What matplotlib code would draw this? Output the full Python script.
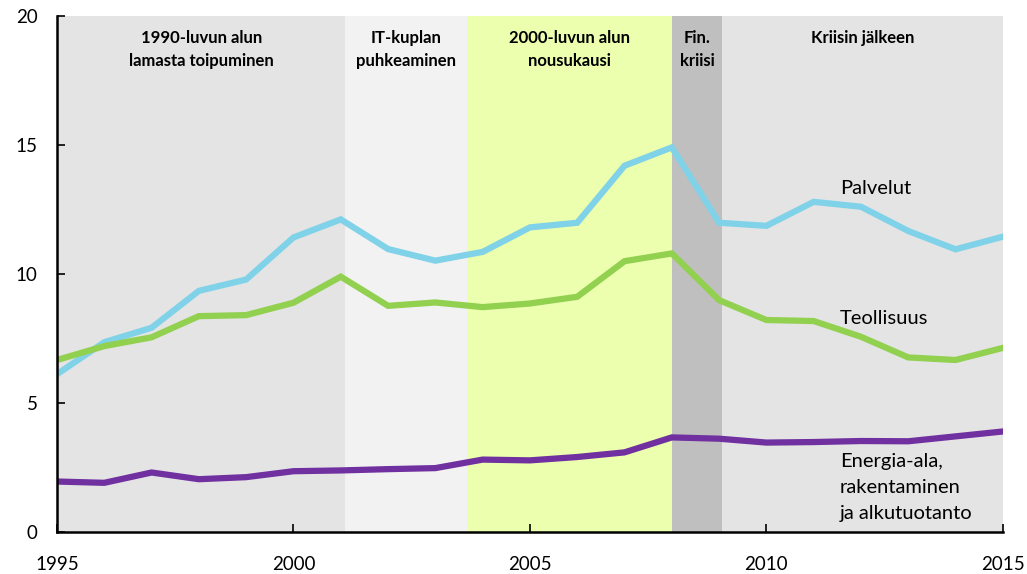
import matplotlib
matplotlib.use("Agg")
import matplotlib.pyplot as plt

plt.rcParams['font.family'] = ['Lato', 'DejaVu Sans']

years = list(range(1995, 2016))
palvelut = [6.12, 7.36, 7.92, 9.35, 9.79, 11.42, 12.12, 10.97, 10.52, 10.86, 11.81,
            11.99, 14.2, 14.91, 11.99, 11.87, 12.8, 12.61, 11.67, 10.96, 11.45]
teollisuus = [6.67, 7.21, 7.55, 8.37, 8.41, 8.89, 9.9, 8.77, 8.9, 8.72, 8.86,
              9.12, 10.5, 10.8, 8.99, 8.22, 8.18, 7.57, 6.77, 6.67, 7.14]
energia = [1.96, 1.91, 2.31, 2.05, 2.13, 2.36, 2.39, 2.44, 2.48, 2.81, 2.78,
           2.91, 3.09, 3.67, 3.62, 3.47, 3.49, 3.53, 3.52, 3.71, 3.9]

# periods: start, end, label, colour
period_starts = [1995, 2001.1, 2003.67, 2008.0, 2009.07]
period_ends = [2001.1, 2003.67, 2008.0, 2009.07, 2015]
period_labels = ["1990-luvun alun\nlamasta toipuminen", "IT-kuplan\npuhkeaminen",
                 "2000-luvun alun\nnousukausi", "Fin.\nkriisi", "Kriisin jälkeen"]
period_colors = ["#E4E4E4", "#F2F2F2", "#EBFFAF", "#BFBFBF", "#E4E4E4"]

fig = plt.figure(figsize=(10.27, 5.74), dpi=100)
ax = fig.add_axes([0.0555, 0.073, 0.921, 0.899])

for s, e, lab, c in zip(period_starts, period_ends, period_labels, period_colors):
    ax.axvspan(s, e, color=c, lw=0, zorder=0)
    ax.text((s + e) / 2, 19.45, lab, ha='center', va='top', fontsize=12,
            fontweight='bold', linespacing=1.55, zorder=3)

ax.plot(years, palvelut, color="#80D2E8", lw=4.5, zorder=2, solid_joinstyle='miter')
ax.plot(years, teollisuus, color="#92D050", lw=4.5, zorder=2, solid_joinstyle='miter')
ax.plot(years, energia, color="#7030A0", lw=4.5, zorder=2, solid_joinstyle='miter')

ax.text(2011.55, 13.33, "Palvelut", fontsize=14.5, va='center')
ax.text(2011.55, 8.29, "Teollisuus", fontsize=14.5, va='center')
ax.text(2011.55, 1.74, "Energia-ala,\nrakentaminen\nja alkutuotanto", fontsize=14.5,
        va='center', linespacing=1.65)

ax.set_xlim(1995, 2015)
ax.set_ylim(0, 20)
ax.set_xticks([1995, 2000, 2005, 2010, 2015])
ax.set_yticks([0, 5, 10, 15, 20])
ax.tick_params(axis='both', direction='in', length=6, width=1.2, labelsize=13.5)
ax.tick_params(axis='x', pad=17)
ax.tick_params(axis='y', pad=14)
for side in ['top', 'right']:
    ax.spines[side].set_visible(False)
for side in ['left', 'bottom']:
    ax.spines[side].set_linewidth(1.8)

fig.savefig("out.png", dpi=100)
